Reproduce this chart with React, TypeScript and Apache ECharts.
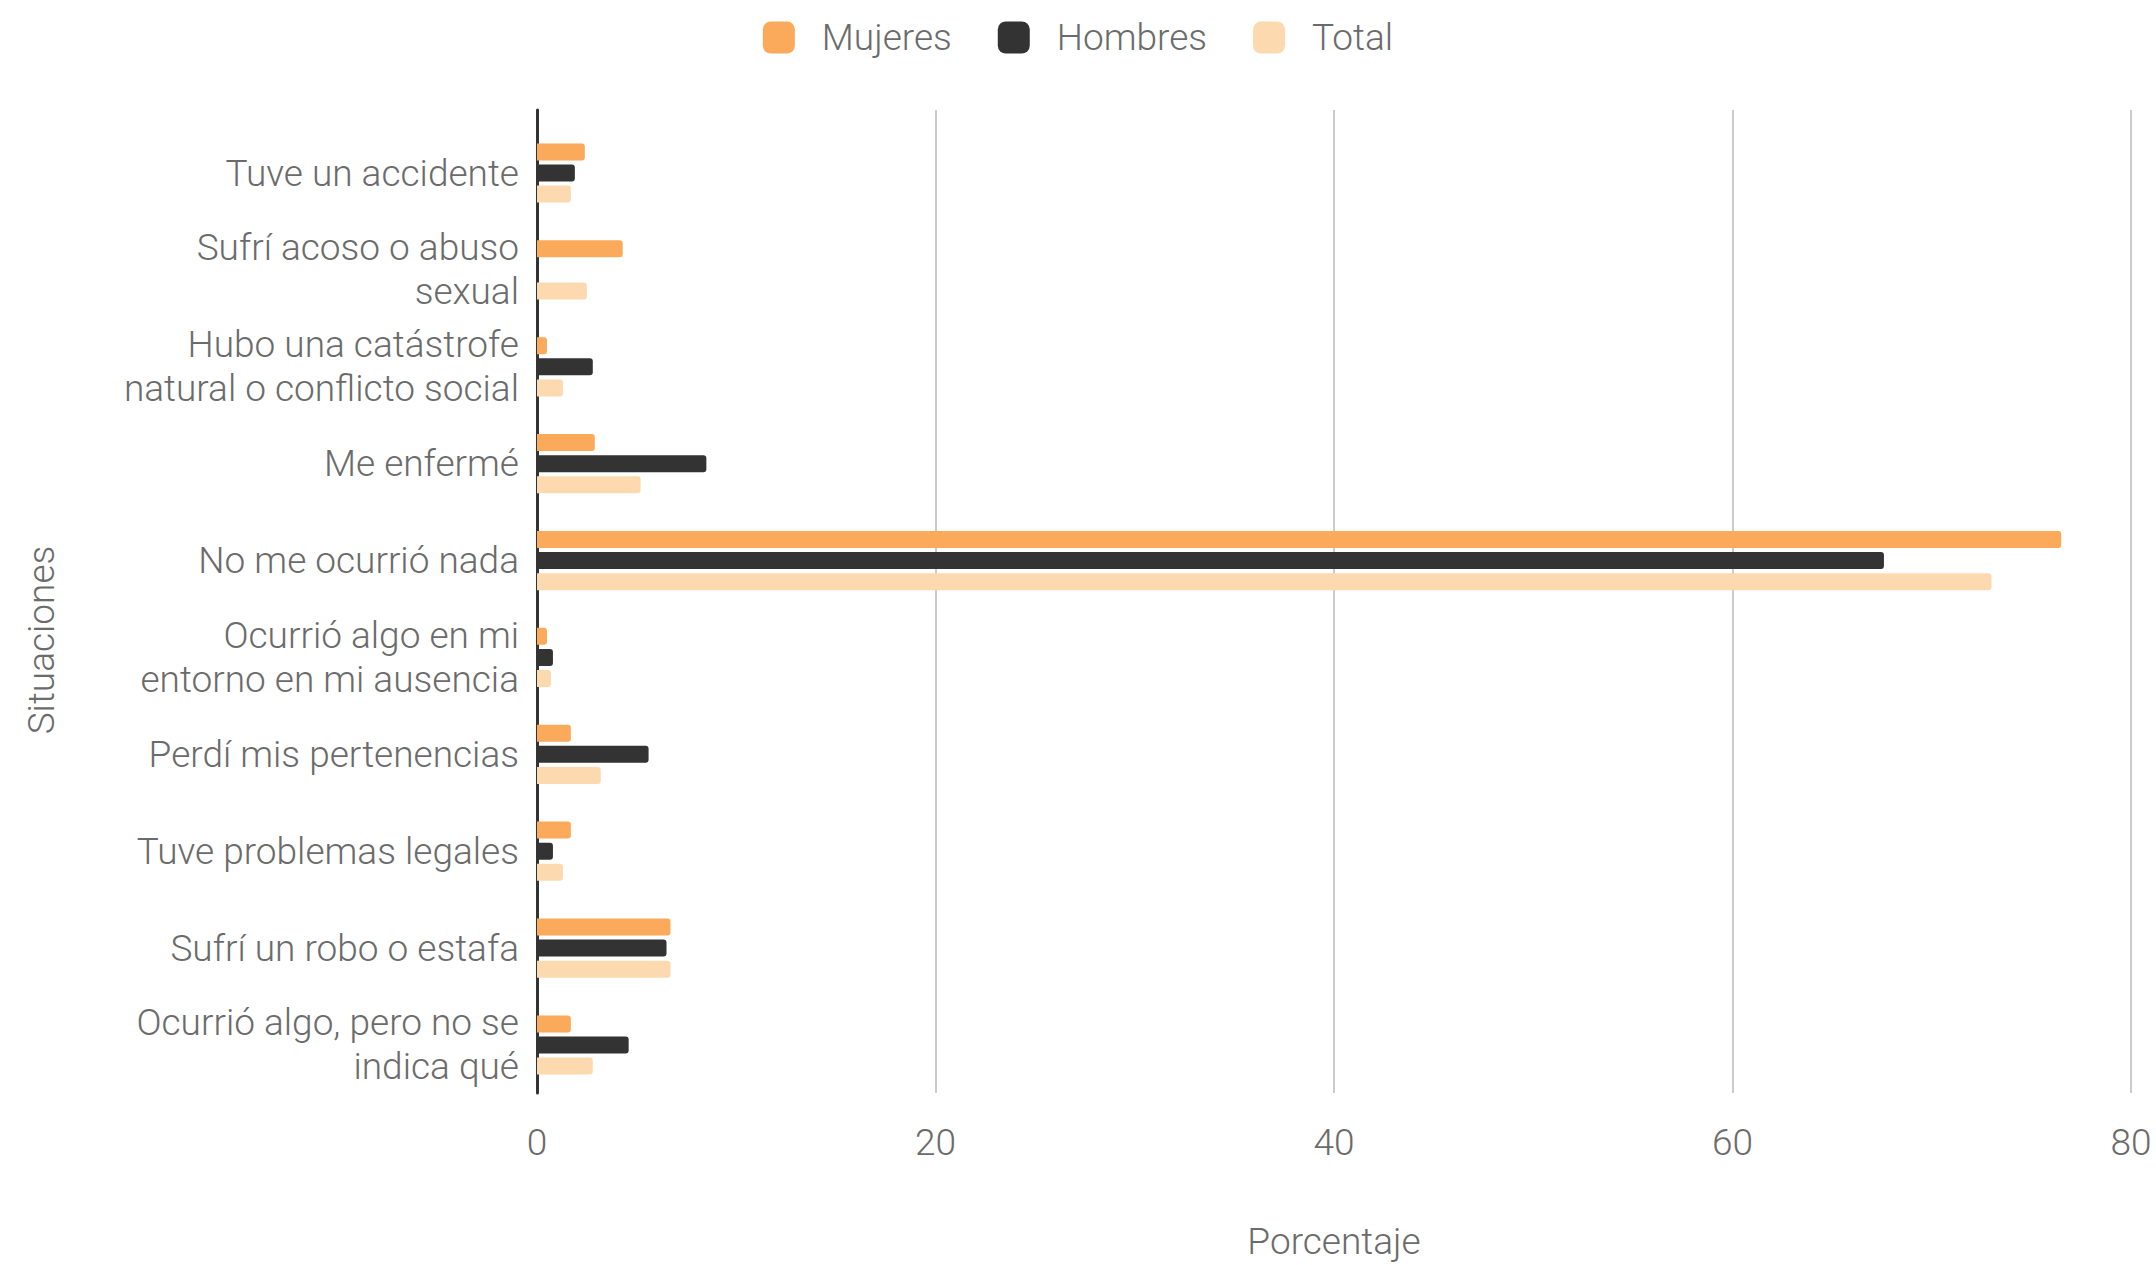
import React, { useEffect, useRef } from "react";
import * as echarts from "echarts";

const categories = [
  "Tuve un accidente",
  "Sufrí acoso o abuso\nsexual",
  "Hubo una catástrofe\nnatural o conflicto social",
  "Me enfermé",
  "No me ocurrió nada",
  "Ocurrió algo en mi\nentorno en mi ausencia",
  "Perdí mis pertenencias",
  "Tuve problemas legales",
  "Sufrí un robo o estafa",
  "Ocurrió algo, pero no se\nindica qué",
];

const mujeres = [2.4, 4.3, 0.5, 2.9, 76.5, 0.5, 1.7, 1.7, 6.7, 1.7];
const hombres = [1.9, 0, 2.8, 8.5, 67.6, 0.8, 5.6, 0.8, 6.5, 4.6];
const total = [1.7, 2.5, 1.3, 5.2, 73.0, 0.7, 3.2, 1.3, 6.7, 2.8];

const xTicks = [0, 20, 40, 60, 80];

const seriesNames = ["Mujeres", "Hombres", "Total"];
const seriesColors = ["#FAAA5A", "#333333", "#FDD9B0"];

const FONT = "Roboto, 'Noto Sans', sans-serif";
const TEXT_COLOR = "#6b6b6b";
const FS = 37;
const FW = 300;

export default function App() {
  const ref = useRef<HTMLDivElement>(null);

  useEffect(() => {
    if (!ref.current) return;
    const chart = echarts.init(ref.current, undefined, { renderer: "svg" });
    const xMin = xTicks[0];
    const xMax = xTicks[xTicks.length - 1];
    const xInterval = xTicks[1] - xTicks[0];
    const datasets = [mujeres, hombres, total];

    chart.setOption({
      animation: false,
      backgroundColor: "#ffffff",
      textStyle: { fontFamily: FONT },
      legend: {
        top: 14,
        left: "center",
        itemWidth: 32,
        itemHeight: 32,
        itemGap: 46,
        icon: "roundRect",
        data: seriesNames,
        textStyle: {
          fontSize: FS,
          fontWeight: FW,
          color: TEXT_COLOR,
          fontFamily: FONT,
          padding: [0, 0, 0, 22],
        },
      },
      grid: [
        { left: 537, right: 25, top: 124.6, bottom: 171.6, containLabel: false },
        { left: 537, right: 25, top: 110, bottom: 155, containLabel: false },
      ],
      xAxis: [
        {
          gridIndex: 0,
          type: "value",
          min: xMin,
          max: xMax,
          interval: xInterval,
          show: false,
        },
        {
          gridIndex: 1,
          type: "value",
          min: xMin,
          max: xMax,
          interval: xInterval,
          axisLine: { show: false },
          axisTick: { show: false },
          splitLine: { show: true, lineStyle: { color: "#cccccc", width: 2 } },
          axisLabel: {
            fontSize: FS,
            fontWeight: FW,
            color: TEXT_COLOR,
            margin: 31,
            fontFamily: FONT,
          },
          name: "Porcentaje",
          nameLocation: "middle",
          nameGap: 130,
          nameTextStyle: {
            fontSize: FS,
            fontWeight: FW,
            color: TEXT_COLOR,
            fontFamily: FONT,
            verticalAlign: "top",
          },
        },
      ],
      yAxis: [
        {
          gridIndex: 0,
          type: "category",
          data: categories,
          inverse: true,
          axisLine: { show: false },
          axisTick: { show: false },
          splitLine: { show: false },
          axisLabel: {
            fontSize: FS,
            fontWeight: FW,
            lineHeight: 44,
            color: TEXT_COLOR,
            margin: 18,
            fontFamily: FONT,
            align: "right",
          },
        },
        {
          gridIndex: 1,
          type: "value",
          min: 0,
          max: 1,
          axisLine: { show: true, lineStyle: { color: "#333333", width: 3 } },
          axisTick: { show: false },
          axisLabel: { show: false },
          splitLine: { show: false },
        },
      ],
      series: seriesNames.map((name, i) => ({
        name,
        type: "bar",
        xAxisIndex: 0,
        yAxisIndex: 0,
        data: datasets[i],
        barWidth: 17,
        barGap: "24%",
        itemStyle: { color: seriesColors[i], borderRadius: [0, 3, 3, 0] },
        z: 3,
      })),
      graphic: [
        {
          type: "text",
          x: 41,
          y: 640,
          rotation: Math.PI / 2,
          style: {
            text: "Situaciones",
            fontSize: FS,
            fontWeight: FW,
            fill: TEXT_COLOR,
            fontFamily: FONT,
            align: "center",
            verticalAlign: "middle",
          },
        },
      ],
    });

    return () => chart.dispose();
  }, []);

  return (
    <div
      ref={ref}
      style={{ position: "fixed", left: 0, top: 0, width: 2156, height: 1265 }}
    />
  );
}
